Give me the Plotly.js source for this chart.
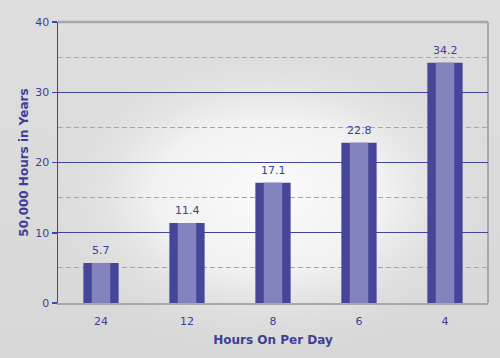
<!DOCTYPE html>
<html>
<head>
<meta charset="utf-8">
<script src="https://cdn.plot.ly/plotly-3.0.1.min.js"></script>
<style>html,body{margin:0;padding:0;background:#dcdcdc;}#chart{width:500px;height:358px;}</style>
</head>
<body>
<div id="chart"></div>
<script>
const categories = ['24', '12', '8', '6', '4'];
const values = [5.7, 11.4, 17.1, 22.8, 34.2];
const valueLabels = ['5.7', '11.4', '17.1', '22.8', '34.2'];
const yTicks = [0, 10, 20, 30, 40];

// background texture via canvas
function makeBg() {
  const c = document.createElement('canvas');
  c.width = 500; c.height = 358;
  const g = c.getContext('2d');
  const lin = g.createLinearGradient(0, 0, 0, 358);
  lin.addColorStop(0, '#dedede');
  lin.addColorStop(1, '#d8d8d8');
  g.fillStyle = lin; g.fillRect(0, 0, 500, 358);
  g.save();
  g.translate(270, 195);
  g.scale(1.5, 1);
  const rad = g.createRadialGradient(0, 0, 10, 0, 0, 160);
  rad.addColorStop(0, 'rgba(250,250,250,1)');
  rad.addColorStop(0.45, 'rgba(244,244,244,0.9)');
  rad.addColorStop(1, 'rgba(220,220,220,0)');
  g.fillStyle = rad;
  g.fillRect(-200, -200, 400, 400);
  g.restore();
  return c.toDataURL('image/png');
}

const dark = '#45459a';
const light = '#8383bd';
const blue = '#3f3f96';
const fam = 'DejaVu Sans, Verdana, sans-serif';

const traces = [
  {
    type: 'bar', x: categories, y: values, width: 0.41,
    marker: {color: dark, line: {width: 0}},
    hoverinfo: 'skip'
  },
  {
    type: 'bar', x: categories, y: values, width: 0.215,
    marker: {color: light, line: {width: 0}},
    hoverinfo: 'skip'
  }
];

// category axis: annotation x is the category index
const annotations = categories.map((c, i) => ({
  x: i, y: values[i], xref: 'x', yref: 'y', text: valueLabels[i],
  showarrow: false, yanchor: 'bottom', yshift: 4,
  font: {family: fam, size: 11, color: blue}
}));

const layout = {
  width: 500, height: 358,
  margin: {l: 58, r: 12, t: 22, b: 55},
  paper_bgcolor: '#dcdcdc',
  plot_bgcolor: 'rgba(0,0,0,0)',
  barmode: 'overlay',
  showlegend: false,
  font: {family: fam, size: 11, color: blue},
  annotations: annotations,
  images: [{
    source: makeBg(), xref: 'paper', yref: 'paper',
    x: -58/430, y: 1 + 22/281, sizex: 500/430, sizey: 358/281,
    sizing: 'stretch', layer: 'below', xanchor: 'left', yanchor: 'top'
  }],
  xaxis: {
    type: 'category', categoryarray: categories, categoryorder: 'array',
    range: [-0.5, categories.length - 0.5],
    showline: true, linecolor: '#a8a8a8', linewidth: 2,
    showgrid: false, ticks: '', ticklen: 0,
    ticklabelstandoff: 7,
    tickfont: {size: 11, color: blue},
    title: {text: 'Hours On Per Day', standoff: 8,
      font: {family: fam, size: 12, color: blue, weight: 'bold'}}
  },
  yaxis: {
    range: [0, 40], tickvals: yTicks, ticktext: yTicks.map(String),
    showline: true, linecolor: dark, linewidth: 1.5,
    ticks: 'outside', ticklen: 5, tickcolor: dark, tickwidth: 1.5,
    showgrid: true, gridcolor: '#43439c', gridwidth: 1.3,
    zeroline: false,
    minor: {dtick: 5, tick0: 5, showgrid: true, gridcolor: '#a5a5a5', griddash: '5px,3px', gridwidth: 1},
    tickfont: {size: 11, color: blue},
    title: {text: '50,000 Hours in Years', standoff: 4,
      font: {family: fam, size: 12, color: blue, weight: 'bold'}}
  },
  shapes: [
    {type: 'line', xref: 'paper', yref: 'paper', x0: 0, x1: 1, y0: 1, y1: 1,
     line: {color: '#a8a8a8', width: 2.5}, layer: 'above'},
    {type: 'line', xref: 'paper', yref: 'paper', x0: 1, x1: 1, y0: 0, y1: 1,
     line: {color: '#a8a8a8', width: 2}, layer: 'below'}
  ]
};

Plotly.newPlot('chart', traces, layout, {displayModeBar: false, staticPlot: true});
</script>
</body>
</html>
